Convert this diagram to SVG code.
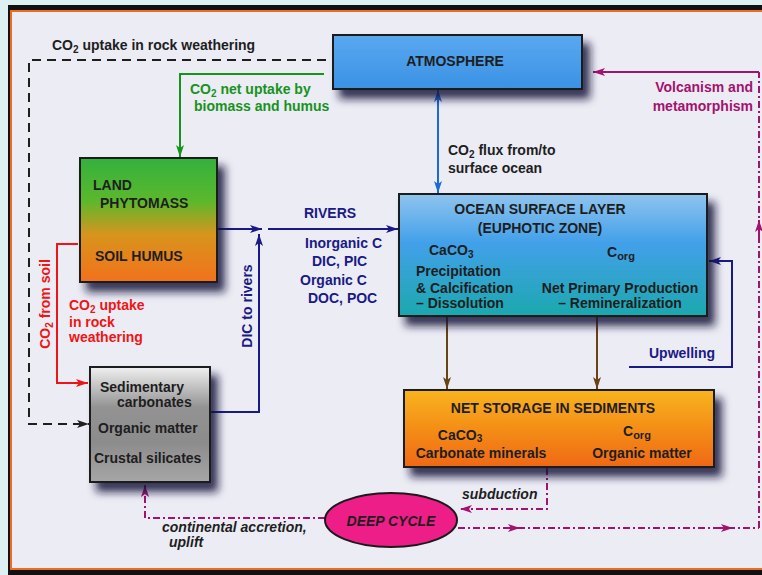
<svg xmlns="http://www.w3.org/2000/svg" width="762" height="575" viewBox="0 0 762 575">
<defs>
<style>
text{font-family:"Liberation Sans",Arial,Helvetica,sans-serif;font-weight:bold;font-size:14px;fill:#1e1e1e}
.g{fill:#17931c}.b{fill:#1a1a86}.r{fill:#f01414}.p{fill:#a3126e}.it{font-style:italic}
.box{stroke:#1a1a1a;stroke-width:2}
.c{fill:none;stroke-width:2}
.dd{stroke-dasharray:7 3 2 3}
</style>
<filter id="sh" x="-20%" y="-20%" width="150%" height="160%">
<feGaussianBlur in="SourceAlpha" stdDeviation="4.5"/>
<feOffset dx="7" dy="9" result="o"/>
<feFlood flood-color="#15153a" flood-opacity="0.85"/>
<feComposite in2="o" operator="in"/>
<feMerge><feMergeNode/><feMergeNode in="SourceGraphic"/></feMerge>
</filter>
<linearGradient id="gAtm" x1="0" y1="0" x2="0" y2="1"><stop offset="0" stop-color="#5aa8f0"/><stop offset="1" stop-color="#3a92e4"/></linearGradient>
<linearGradient id="gLand" x1="0" y1="0" x2="0" y2="1"><stop offset="0" stop-color="#33b13d"/><stop offset="0.35" stop-color="#5cb82c"/><stop offset="0.62" stop-color="#d8941e"/><stop offset="1" stop-color="#f2711a"/></linearGradient>
<linearGradient id="gOcean" x1="0" y1="0" x2="0" y2="1"><stop offset="0" stop-color="#90c4ee"/><stop offset="0.4" stop-color="#42a0ea"/><stop offset="1" stop-color="#1ca8ae"/></linearGradient>
<linearGradient id="gSed" x1="0" y1="0" x2="0" y2="1"><stop offset="0" stop-color="#f0f0f0"/><stop offset="0.35" stop-color="#939393"/><stop offset="0.65" stop-color="#8c8c8c"/><stop offset="1" stop-color="#a6a6a6"/></linearGradient>
<linearGradient id="gStore" x1="0" y1="0" x2="0" y2="1"><stop offset="0" stop-color="#f8b41e"/><stop offset="1" stop-color="#f06812"/></linearGradient>
<marker id="aK" viewBox="0 0 12 8" refX="12" refY="4" markerWidth="12" markerHeight="8" markerUnits="userSpaceOnUse" orient="auto-start-reverse"><path d="M0,0 L12,4 L0,8 L3,4 z" fill="#1e1e1e"/></marker>
<marker id="aG" viewBox="0 0 12 8" refX="12" refY="4" markerWidth="12" markerHeight="8" markerUnits="userSpaceOnUse" orient="auto-start-reverse"><path d="M0,0 L12,4 L0,8 L3,4 z" fill="#17931c"/></marker>
<marker id="aB" viewBox="0 0 12 8" refX="12" refY="4" markerWidth="12" markerHeight="8" markerUnits="userSpaceOnUse" orient="auto-start-reverse"><path d="M0,0 L12,4 L0,8 L3,4 z" fill="#1a6ad8"/></marker>
<marker id="aN" viewBox="0 0 12 8" refX="12" refY="4" markerWidth="12" markerHeight="8" markerUnits="userSpaceOnUse" orient="auto-start-reverse"><path d="M0,0 L12,4 L0,8 L3,4 z" fill="#1a1a86"/></marker>
<marker id="aR" viewBox="0 0 12 8" refX="12" refY="4" markerWidth="12" markerHeight="8" markerUnits="userSpaceOnUse" orient="auto-start-reverse"><path d="M0,0 L12,4 L0,8 L3,4 z" fill="#f01414"/></marker>
<marker id="aP" viewBox="0 0 12 8" refX="12" refY="4" markerWidth="12" markerHeight="8" markerUnits="userSpaceOnUse" orient="auto-start-reverse"><path d="M0,0 L12,4 L0,8 L3,4 z" fill="#a3126e"/></marker>
<marker id="aW" viewBox="0 0 12 8" refX="12" refY="4" markerWidth="12" markerHeight="8" markerUnits="userSpaceOnUse" orient="auto-start-reverse"><path d="M0,0 L12,4 L0,8 L3,4 z" fill="#6a4312"/></marker>
</defs>

<rect width="762" height="575" fill="#ddf1f3"/>
<rect x="8" y="5" width="754" height="570" fill="#111"/>
<rect x="11" y="11" width="753" height="558" fill="#ececf5" stroke="#f06a20" stroke-width="2"/>

<g id="connectors">
<path class="c" d="M326,60 H29 V424 H89" stroke="#1e1e1e" stroke-width="2.5" stroke-dasharray="9 6" marker-end="url(#aK)"/>
<path class="c" d="M324,74 H180 V157" stroke="#17931c" marker-end="url(#aG)"/>
<path class="c" d="M438,90 V193" stroke="#1a6ad8" marker-start="url(#aB)" marker-end="url(#aB)"/>
<path class="c" d="M759,72 H593" stroke="#a3126e" marker-end="url(#aP)"/>
<path class="c dd" d="M759,528 V72" stroke="#a3126e"/>
<path class="c" d="M759,236 V220" stroke="#a3126e" marker-end="url(#aP)"/>
<path class="c dd" d="M458,528 H759" stroke="#a3126e"/>
<path class="c" d="M505,528 H520" stroke="#a3126e" marker-end="url(#aP)"/>
<path class="c" d="M718,528 H733" stroke="#a3126e" marker-end="url(#aP)"/>
<path class="c dd" d="M547,468 V509 H460" stroke="#a3126e" marker-end="url(#aP)"/>
<path class="c dd" d="M325,518 H145 V485" stroke="#a3126e" marker-end="url(#aP)"/>
<path class="c" d="M78,244 H57 V383 H88" stroke="#f01414" marker-end="url(#aR)"/>
<path class="c" d="M218,229 H262" stroke="#1a1a86" marker-end="url(#aN)"/>
<path class="c" d="M268,229 H398" stroke="#1a1a86" marker-end="url(#aN)"/>
<path class="c" d="M211,412 H259 V234" stroke="#1a1a86" marker-end="url(#aN)"/>
<path class="c" d="M447,317 V389" stroke="#6a4312" marker-end="url(#aW)"/>
<path class="c" d="M597,317 V389" stroke="#6a4312" marker-end="url(#aW)"/>
<path class="c" d="M629,367 H732 V261 H709" stroke="#1a1a86" stroke-width="1.6" marker-end="url(#aN)"/>
</g>

<g id="labels">
<text x="52" y="50">CO<tspan font-size="10" dy="3">2</tspan><tspan dy="-3"> uptake in rock weathering</tspan></text>
<text class="g" x="190" y="94">CO<tspan font-size="10" dy="3">2</tspan><tspan dy="-3"> net uptake by</tspan></text>
<text class="g" x="194" y="111">biomass and humus</text>
<text x="448" y="155">CO<tspan font-size="10" dy="3">2</tspan><tspan dy="-3"> flux from/to</tspan></text>
<text x="448" y="173">surface ocean</text>
<text class="p" x="753" y="92" text-anchor="end">Volcanism and</text>
<text class="p" x="753" y="111" text-anchor="end">metamorphism</text>
<text class="b" x="304" y="218">RIVERS</text>
<text class="b" x="305" y="248">Inorganic C</text>
<text class="b" x="312" y="266">DIC, PIC</text>
<text class="b" x="300" y="285">Organic C</text>
<text class="b" x="308" y="303">DOC, POC</text>
<text class="b" transform="translate(247,306) rotate(-90)" y="5" text-anchor="middle">DIC to rivers</text>
<text class="r" transform="translate(45,304) rotate(-90)" y="5" text-anchor="middle">CO<tspan font-size="10" dy="2.5">2</tspan><tspan dy="-2.5"> from soil</tspan></text>
<text class="r" x="69" y="310">CO<tspan font-size="10" dy="2.5">2</tspan><tspan dy="-2.5"> uptake</tspan></text>
<text class="r" x="69" y="327">in rock</text>
<text class="r" x="69" y="342">weathering</text>
<text class="b" x="649" y="358">Upwelling</text>
<text class="it" x="462" y="499">subduction</text>
<text class="it" x="162" y="532">continental accretion,</text>
<text class="it" x="169" y="547">uplift</text>
</g>

<g id="atmosphere">
<rect class="box" x="333" y="35" width="249" height="54" fill="url(#gAtm)" filter="url(#sh)"/>
<text x="455" y="66" text-anchor="middle">ATMOSPHERE</text>
</g>

<g id="land">
<rect class="box" x="80" y="158" width="137" height="124" fill="url(#gLand)" filter="url(#sh)"/>
<text x="93" y="190">LAND</text>
<text x="100" y="208">PHYTOMASS</text>
<text x="95" y="261">SOIL HUMUS</text>
</g>

<g id="ocean">
<rect class="box" x="399" y="194" width="308" height="122" fill="url(#gOcean)" filter="url(#sh)"/>
<text x="540" y="214" text-anchor="middle">OCEAN SURFACE LAYER</text>
<text x="540" y="233" text-anchor="middle">(EUPHOTIC ZONE)</text>
<text x="429" y="255">CaCO<tspan font-size="10" dy="3">3</tspan></text>
<text x="607" y="257">C<tspan font-size="11" dy="3">org</tspan></text>
<text x="416" y="276">Precipitation</text>
<text x="416" y="293">&amp; Calcification</text>
<text x="416" y="308">– Dissolution</text>
<text x="620" y="293" text-anchor="middle">Net Primary Production</text>
<text x="620" y="308" text-anchor="middle">– Remineralization</text>
</g>

<g id="sediments">
<rect class="box" x="404" y="390" width="310" height="77" fill="url(#gStore)" filter="url(#sh)"/>
<text x="553" y="413" text-anchor="middle">NET STORAGE IN SEDIMENTS</text>
<text x="460" y="440" text-anchor="middle">CaCO<tspan font-size="10" dy="2">3</tspan></text>
<text x="481" y="458" text-anchor="middle">Carbonate minerals</text>
<text x="623" y="436">C<tspan font-size="11" dy="3">org</tspan></text>
<text x="642" y="458" text-anchor="middle">Organic matter</text>
</g>

<g id="crust">
<rect class="box" x="90" y="367" width="120" height="115" fill="url(#gSed)" filter="url(#sh)"/>
<text x="100" y="392">Sedimentary</text>
<text x="117" y="407">carbonates</text>
<text x="98" y="433">Organic matter</text>
<text x="94" y="463">Crustal silicates</text>
</g>

<g id="deepcycle">
<ellipse cx="391" cy="520" rx="66" ry="27" fill="#ee1e88" stroke="#1a1a1a" stroke-width="2"/>
<text class="it" x="391" y="526" text-anchor="middle">DEEP CYCLE</text>
</g>
</svg>
